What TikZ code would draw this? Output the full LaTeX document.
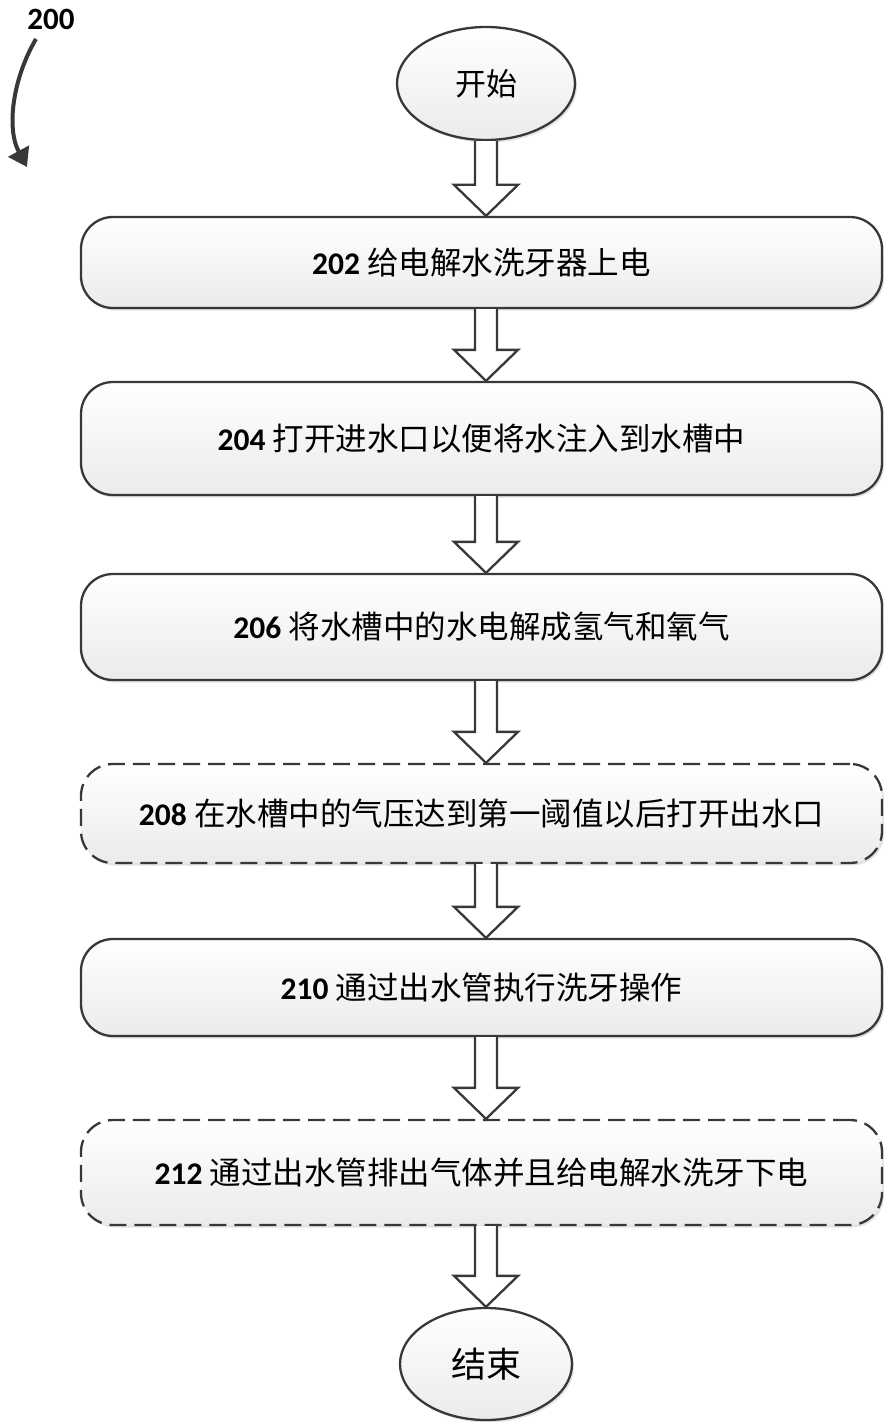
\documentclass[tikz,border=0pt]{standalone}
\usepackage{fontspec}
\setmainfont{Carlito}
\newfontfamily\cjk{Noto Sans CJK SC}
\usetikzlibrary{shapes.geometric,shadows,arrows.meta,calc}
\definecolor{edgec}{HTML}{383838}
\definecolor{fillbot}{HTML}{EBEBEB}
\tikzset{
  stepbox/.style={draw=edgec, line width=2.3bp, rounded corners=32bp,
    top color=white, bottom color=fillbot, minimum width=801bp, inner sep=0pt,
    drop shadow={opacity=0.22, shadow xshift=2bp, shadow yshift=-2.5bp},
    font=\fontsize{31.5bp}{38bp}\selectfont},
  optbox/.style={stepbox, dash pattern=on 17bp off 8bp},
  term/.style={ellipse, draw=edgec, line width=2.3bp, inner sep=0pt,
    top color=white, bottom color=fillbot,
    drop shadow={opacity=0.22, shadow xshift=2bp, shadow yshift=-2.5bp}},
  barrow/.style={draw=edgec, line width=2.3bp, fill=white, line join=miter},
  numlbl/.style={font=\bfseries\fontsize{31bp}{36bp}\selectfont, inner sep=0pt}
}
\newcommand\blockarrow[2]{%
  \draw[barrow] let \p1=(#1.south -| st), \p2=(#2.north -| st) in
    (\x1-11bp,\y1) -- (\x1-11bp,\y2+31bp) -- (\x1-32bp,\y2+31bp) -- (\x1,\y2)
    -- (\x1+32bp,\y2+31bp) -- (\x1+11bp,\y2+31bp) -- (\x1+11bp,\y1);
}
\newcommand\steptext[2]{{\bfseries #1} {\cjk #2}}
\begin{document}
\begin{tikzpicture}[x=1bp,y=-1bp]
\useasboundingbox (0,0) rectangle (883,1422);
% label 200 and curved arrow
\node[numlbl] (lbl) at (51,19) {200};
\coordinate (ca) at (36,39);
\coordinate (cb) at (27,167);
\draw[edgec, line width=4bp, -{Triangle[length=18bp,width=23bp]}]
  (ca) .. controls (13,78) and (6,128) .. (cb);
% terminals
\node[term, minimum width=178bp, minimum height=113bp,
  font=\cjk\fontsize{31bp}{36bp}\selectfont] (st) at (486,83.5) {开始};
\node[term, minimum width=172bp, minimum height=112bp,
  font=\cjk\fontsize{35bp}{40bp}\selectfont] (en) at (486,1364) {结束};
% steps
\node[stepbox, minimum height=91bp]  (s202) at (481.5,262.5) {\steptext{202}{给电解水洗牙器上电}};
\node[stepbox, minimum height=113bp] (s204) at (481.5,438.5) {\steptext{204}{打开进水口以便将水注入到水槽中}};
\node[stepbox, minimum height=106bp] (s206) at (481.5,627)   {\steptext{206}{将水槽中的水电解成氢气和氧气}};
\node[optbox,  minimum height=99bp]  (s208) at (481.5,813.5) {\steptext{208}{在水槽中的气压达到第一阈值以后打开出水口}};
\node[stepbox, minimum height=97bp]  (s210) at (481.5,987.5) {\steptext{210}{通过出水管执行洗牙操作}};
\node[optbox,  minimum height=105bp] (s212) at (481.5,1172.5) {\steptext{212}{通过出水管排出气体并且给电解水洗牙下电}};
% block arrows
\blockarrow{st}{s202}
\blockarrow{s202}{s204}
\blockarrow{s204}{s206}
\blockarrow{s206}{s208}
\blockarrow{s208}{s210}
\blockarrow{s210}{s212}
\blockarrow{s212}{en}
\end{tikzpicture}
\end{document}
